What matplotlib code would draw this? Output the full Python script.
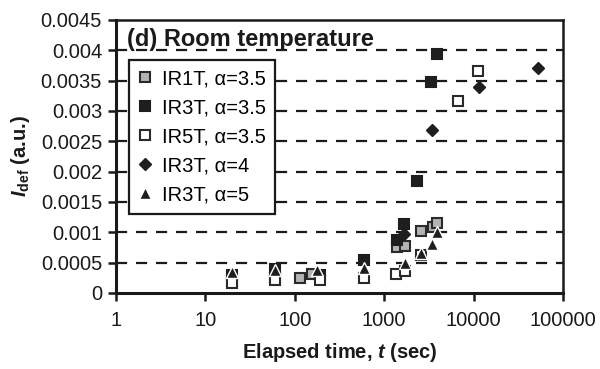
import matplotlib
matplotlib.use("Agg")
import matplotlib.pyplot as plt
from matplotlib.ticker import FixedLocator, FixedFormatter, NullLocator

plt.rcParams['font.family'] = ['Liberation Sans', 'DejaVu Sans']
plt.rcParams['mathtext.fontset'] = 'custom'
plt.rcParams['mathtext.rm'] = 'Liberation Sans:bold'
plt.rcParams['mathtext.bf'] = 'Liberation Sans:bold'
plt.rcParams['mathtext.it'] = 'Liberation Sans:italic:bold'

# Data
ir1t_t = [20, 60, 115, 155, 1400, 1700, 2600, 3500, 3850]
ir1t_v = [0.00020, 0.00025, 0.00024, 0.00032, 0.00075, 0.00077, 0.00103, 0.00109, 0.00115]

ir3t35_t = [20, 60, 190, 600, 1380, 1650, 2300, 3370, 3850]
ir3t35_v = [0.00030, 0.00040, 0.00030, 0.00054, 0.00087, 0.00113, 0.00184, 0.00347, 0.00394]

ir5t_t = [20, 60, 190, 600, 1350, 1700, 2600, 6700, 11200]
ir5t_v = [0.00017, 0.00022, 0.00021, 0.00025, 0.00032, 0.00036, 0.00062, 0.00317, 0.00366]

ir3t4_t = [1650, 3430, 11500, 52500]
ir3t4_v = [0.00097, 0.00268, 0.00340, 0.00371]

ir3t5_t = [20, 60, 177, 600, 1700, 2600, 3450, 3850]
ir3t5_v = [0.00035, 0.00038, 0.00038, 0.00041, 0.00049, 0.00066, 0.00080, 0.00101]

y_ticks = [0, 0.0005, 0.001, 0.0015, 0.002, 0.0025, 0.003, 0.0035, 0.004, 0.0045]
y_labels = ["0", "0.0005", "0.001", "0.0015", "0.002", "0.0025", "0.003", "0.0035", "0.004", "0.0045"]
x_ticks = [1, 10, 100, 1000, 10000, 100000]
x_labels = ["1", "10", "100", "1000", "10000", "100000"]

fig = plt.figure(figsize=(6, 3.69), dpi=100)
ax = fig.add_axes([0.1933, 0.206, 0.745, 0.7398])

ax.set_xscale('log')
ax.set_xlim(1, 100000)
ax.set_ylim(0, 0.0045)

for y in y_ticks[1:-1]:
    ax.axhline(y, color='#1a1a1a', lw=1.6, ls=(0, (5, 4)), zorder=1)

edge = '#2a2a2a'
ms = 7.5
ax.plot(ir1t_t, ir1t_v, ls='none', marker='s', ms=ms, mfc='#b3b3b3', mec=edge, mew=1.5,
        label='IR1T, α=3.5', zorder=3)
ax.plot(ir3t35_t, ir3t35_v, ls='none', marker='s', ms=ms, mfc='#1e1e1e', mec='#1e1e1e', mew=1.5,
        label='IR3T, α=3.5', zorder=3)
ax.plot(ir5t_t, ir5t_v, ls='none', marker='s', ms=ms, mfc='white', mec=edge, mew=1.5,
        label='IR5T, α=3.5', zorder=3)
ax.plot(ir3t4_t, ir3t4_v, ls='none', marker='D', ms=6.5, mfc='#1e1e1e', mec='#1e1e1e', mew=1,
        label='IR3T, α=4', zorder=3)
ax.plot(ir3t5_t, ir3t5_v, ls='none', marker='^', ms=8, mfc='#1e1e1e', mec='white', mew=1,
        label='IR3T, α=5', zorder=3)

ax.yaxis.set_major_locator(FixedLocator(y_ticks))
ax.yaxis.set_major_formatter(FixedFormatter(y_labels))
ax.xaxis.set_major_locator(FixedLocator(x_ticks))
ax.xaxis.set_major_formatter(FixedFormatter(x_labels))
ax.xaxis.set_minor_locator(NullLocator())

ax.tick_params(axis='both', labelsize=14.5, colors='#1a1a1a', width=1.8, length=6)
ax.tick_params(axis='y', direction='out', pad=4)
ax.tick_params(axis='x', direction='out', pad=7)

for s in ['left', 'bottom']:
    ax.spines[s].set_linewidth(2.2)
    ax.spines[s].set_color('#1a1a1a')
for s in ['top', 'right']:
    ax.spines[s].set_linewidth(1.8)
    ax.spines[s].set_color('#1a1a1a')

ax.text(0.025, 0.927, '(d) Room temperature', transform=ax.transAxes, fontsize=17,
        fontweight='bold', color='#1a1a1a', va='center', ha='left', zorder=5)

leg = ax.legend(loc='upper left', bbox_to_anchor=(0.029, 0.853), fontsize=14.5, frameon=True,
                fancybox=False, edgecolor='#1a1a1a', handlelength=0.7, handletextpad=0.5,
                labelspacing=0.5, borderpad=0.45, borderaxespad=0, framealpha=1)
leg.get_frame().set_linewidth(1.6)
leg.set_zorder(6)

ax.set_xlabel(r'Elapsed time, $t$ (sec)', fontsize=14.5, fontweight='bold', labelpad=8, color='#1a1a1a')
ax.set_ylabel(r'$I_{\mathbf{def}}$ (a.u.)', fontsize=14.5, fontweight='bold', labelpad=6, color='#1a1a1a')

fig.savefig('out.png', dpi=100)
